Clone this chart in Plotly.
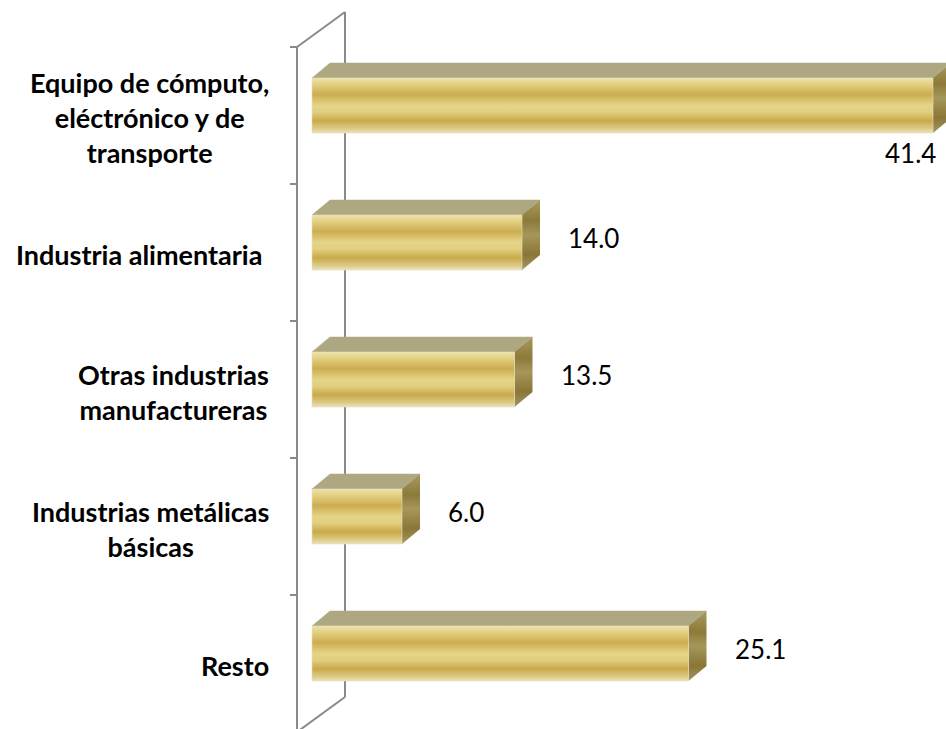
import plotly.graph_objects as go

# ---------------- data ----------------
categories = [
    "Equipo de cómputo,<br>eléctrónico y de<br>transporte",
    "Industria alimentaria ",
    "Otras industrias<br>manufactureras",
    "Industrias metálicas<br>básicas",
    "Resto",
]
values = [41.4, 14.0, 13.5, 6.0, 25.1]
value_labels = ["41.4", "14.0", "13.5", "6.0", "25.1"]

# ---------------- style / geometry (axis units) ----------------
X_MIN, X_MAX = -20.8, 42.267
Y_TOP, Y_BOTTOM = -0.843, 4.478
FT, FB = -0.2737, 0.1277          # front face top/bottom relative to category centre
DX, DY = 1.2, -0.1095             # 3D depth offset of bars
WALL_FRONT_X, WALL_BACK_X = -1.0, 2.2
WALL_DY = -0.2555
TICK_LEN = 0.47
LINE_COL = "#8a8a8a"

front_scale = [[0.0, "#eee3ad"], [0.12, "#e2cf7f"], [0.3, "#ccad50"], [0.5, "#e5d488"],
               [0.62, "#e2cf7f"], [0.78, "#c9a94a"], [0.92, "#dccb86"], [1.0, "#ebe2bb"]]
side_scale = [[0.0, "#a89a5c"], [0.3, "#8c7a3a"], [0.5, "#a5975a"], [0.78, "#8a7636"], [1.0, "#a39866"]]
TOP_COL = "#aea882"

fig = go.Figure()

# ---------------- wall (category axis) ----------------
n = len(categories)
wx, wy = [], []
wx += [WALL_FRONT_X, WALL_FRONT_X, None]
wy += [-0.5, n - 0.5, None]
wx += [WALL_BACK_X, WALL_BACK_X, None]
wy += [-0.5 + WALL_DY, n - 0.5 + WALL_DY, None]
wx += [WALL_FRONT_X, WALL_BACK_X, None, WALL_FRONT_X, WALL_BACK_X, None]
wy += [-0.5, -0.5 + WALL_DY, None, n - 0.5, n - 0.5 + WALL_DY, None]
for k in range(n + 1):
    wx += [WALL_FRONT_X - TICK_LEN, WALL_FRONT_X, None]
    wy += [k - 0.5, k - 0.5, None]
fig.add_trace(go.Scatter(x=wx, y=wy, mode="lines", line=dict(color=LINE_COL, width=2),
                         hoverinfo="skip", showlegend=False))

# ---------------- 3D bars ----------------
for i, v in enumerate(values):
    ft, fb = i + FT, i + FB
    fig.add_trace(go.Scatter(
        x=[0, v, v + DX, DX, 0], y=[ft, ft, ft + DY, ft + DY, ft],
        mode="lines", fill="toself", fillcolor=TOP_COL, line=dict(width=0.5, color=TOP_COL),
        hoverinfo="skip", showlegend=False))
    fig.add_trace(go.Scatter(
        x=[v, v + DX, v + DX, v, v], y=[ft, ft + DY, fb + DY, fb, ft],
        mode="lines", fill="toself", line=dict(width=0),
        fillgradient=dict(type="vertical", colorscale=side_scale, start=ft + DY, stop=fb),
        hoverinfo="skip", showlegend=False))
    fig.add_trace(go.Scatter(
        x=[0, v, v, 0, 0], y=[ft, ft, fb, fb, ft],
        mode="lines", fill="toself", line=dict(width=0.6, color="#e6dfc0"),
        fillgradient=dict(type="vertical", colorscale=front_scale, start=ft, stop=fb),
        hoverinfo="skip", showlegend=False))

# ---------------- labels ----------------
annotations = []
for i, cat in enumerate(categories):
    annotations.append(dict(
        x=-2.733, y=i + 0.015, xref="x", yref="y", text=cat, showarrow=False,
        xanchor="right", yanchor="middle", align="center",
        font=dict(family="Lato", size=27, color="#000000", weight="bold")))

for i, (v, lab) in enumerate(zip(values, value_labels)):
    if v + 6 > X_MAX:
        ax, ay, xa = v - 1.53, i + 0.274, "center"
    else:
        ax, ay, xa = v + 2.95, i - 0.106, "left"
    annotations.append(dict(
        x=ax, y=ay, xref="x", yref="y", text=lab, showarrow=False,
        xanchor=xa, yanchor="middle",
        font=dict(family="Lato", size=26, color="#000000")))

fig.update_layout(
    width=946, height=729,
    margin=dict(l=0, r=0, t=0, b=0),
    paper_bgcolor="white", plot_bgcolor="white",
    xaxis=dict(range=[X_MIN, X_MAX], visible=False, fixedrange=True),
    yaxis=dict(range=[Y_BOTTOM, Y_TOP], visible=False, fixedrange=True),
    annotations=annotations,
    showlegend=False,
)

fig.write_html(
    "out.html",
    config={"displayModeBar": False},
    post_script="document.body.style.margin='0';document.body.style.overflow='hidden';",
)
